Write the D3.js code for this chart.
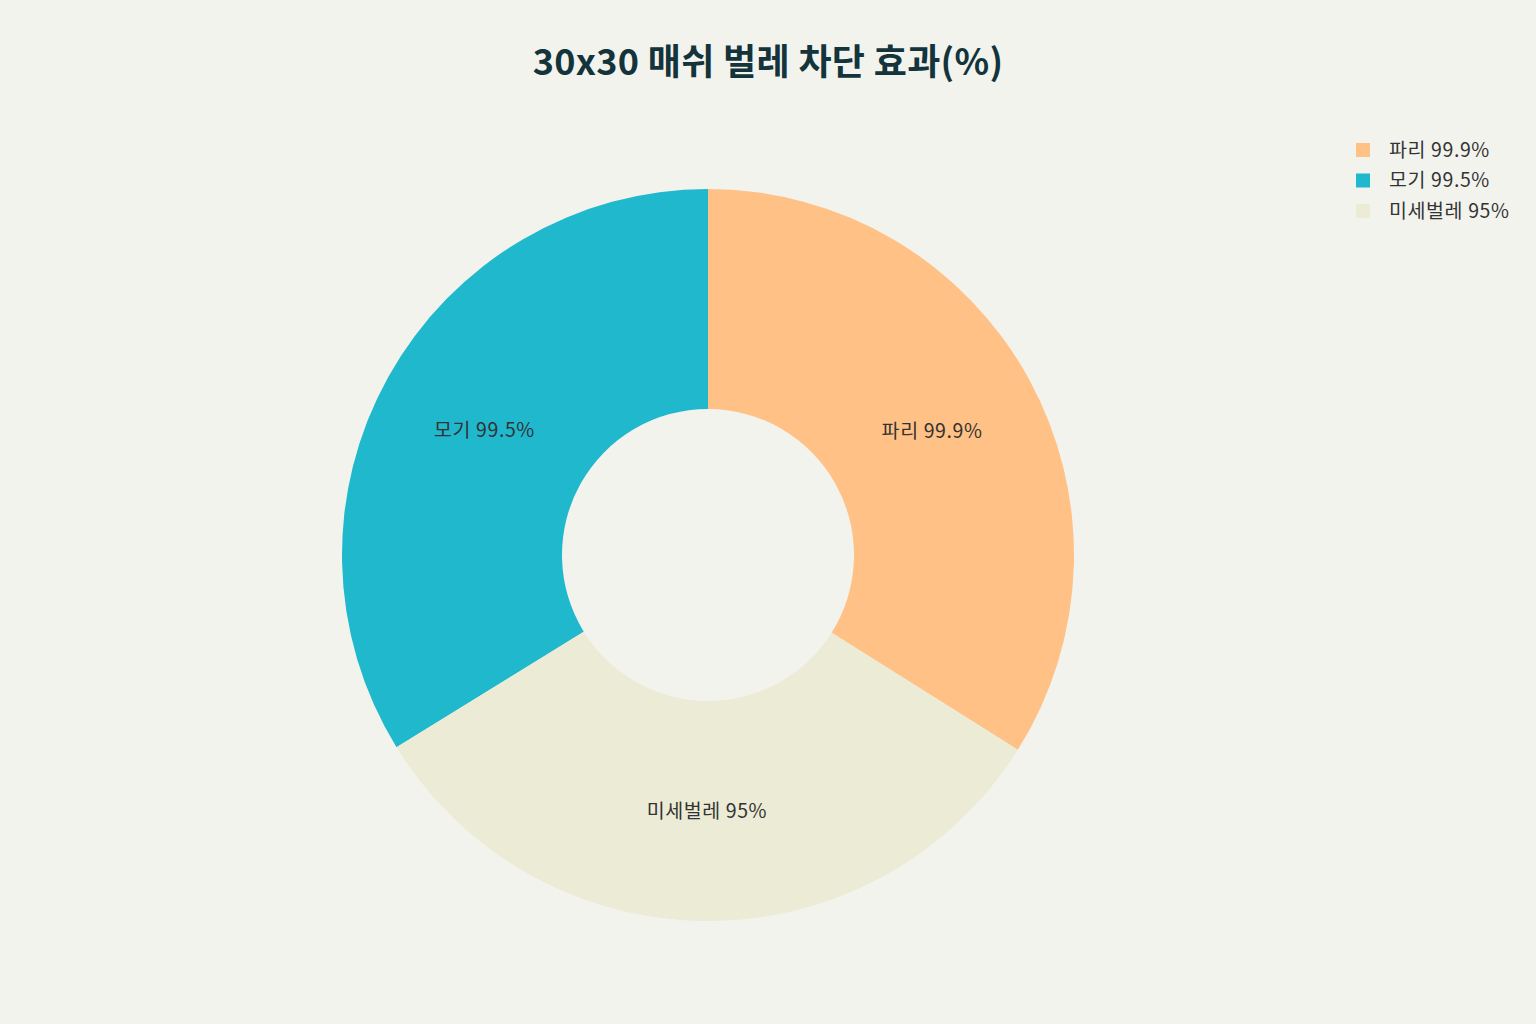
<!DOCTYPE html>
<html>
<head>
	<meta charset="utf-8">
	<title>30x30 매쉬 벌레 차단 효과</title>
	<script src="https://cdn.jsdelivr.net/npm/d3@7"></script>
	<style>
		html, body { margin: 0; padding: 0; background: #F3F3EE; }
		svg { display: block; font-family: "Noto Sans CJK KR", "Noto Sans", sans-serif; }
	</style>
</head>
<body>
<div id="chart"></div>
<script>
	// data
	var categories = ["파리", "모기", "미세벌레"];
	var values = [99.9, 99.5, 95];
	var labels = ["파리 99.9%", "모기 99.5%", "미세벌레 95%"];
	var colors = ["#FFC185", "#1FB8CD", "#ECEBD5"];
	// clockwise drawing order from 12 o'clock
	var drawOrder = ["파리", "미세벌레", "모기"];

	var width = 1536,
		height = 1024;

	var svg = d3.select("#chart")
		.append("svg")
		.attr("width", width)
		.attr("height", height);

	svg.append("rect")
		.attr("width", width)
		.attr("height", height)
		.attr("fill", "#F3F3EE");

	// title
	svg.append("text")
		.attr("x", 768)
		.attr("y", 75)
		.attr("text-anchor", "middle")
		.attr("font-size", 36)
		.attr("font-weight", "bold")
		.attr("letter-spacing", 0.3)
		.attr("fill", "#13343B")
		.text("30x30 매쉬 벌레 차단 효과(%)");

	var data = categories.map(function(c, i) {
		return { name: c, value: values[i], label: labels[i], color: colors[i] };
	});

	var pie = d3.pie()
		.value(function(d) { return d.value; })
		.sort(function(a, b) { return drawOrder.indexOf(a.name) - drawOrder.indexOf(b.name); });

	var outerR = 366, innerR = 146;
	var arc = d3.arc().innerRadius(innerR).outerRadius(outerR);
	var labelArc = d3.arc().innerRadius((innerR + outerR) / 2).outerRadius((innerR + outerR) / 2);

	var g = svg.append("g")
		.attr("transform", "translate(708,555)");

	var slices = g.selectAll("g.slice")
		.data(pie(data))
		.enter().append("g")
		.attr("class", "slice");

	slices.append("path")
		.attr("d", arc)
		.attr("fill", function(d) { return d.data.color; });

	slices.append("text")
		.attr("transform", function(d) { return "translate(" + labelArc.centroid(d) + ")"; })
		.attr("text-anchor", "middle")
		.attr("dy", "0.35em")
		.attr("font-size", 19.5)
		.attr("letter-spacing", 0.6)
		.attr("fill", "#333333")
		.text(function(d) { return d.data.label; });

	// legend
	var legend = svg.append("g")
		.attr("transform", "translate(1356,150)");

	var items = legend.selectAll("g.item")
		.data(data)
		.enter().append("g")
		.attr("class", "item")
		.attr("transform", function(d, i) { return "translate(0," + (i * 30.5) + ")"; });

	items.append("rect")
		.attr("x", 0)
		.attr("y", -7)
		.attr("width", 14)
		.attr("height", 14)
		.attr("fill", function(d) { return d.color; });

	items.append("text")
		.attr("x", 33)
		.attr("dy", "0.35em")
		.attr("font-size", 19.5)
		.attr("letter-spacing", 0.6)
		.attr("fill", "#333333")
		.text(function(d) { return d.label; });
</script>
</body>
</html>
